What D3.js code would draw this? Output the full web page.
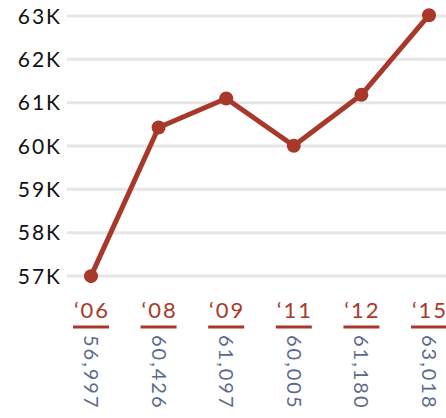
<!DOCTYPE html>
<html>
<head>
<meta charset="utf-8">
<script src="https://cdn.jsdelivr.net/npm/d3@7"></script>
<style>
  body { margin: 0; background: #fff; }
  svg { display: block; font-family: Lato, "Open Sans", sans-serif; }
</style>
</head>
<body>
<div id="chart"></div>
<script>
const years = ["\u201806", "\u201808", "\u201809", "\u201811", "\u201812", "\u201815"];
const values = [56997, 60426, 61097, 60005, 61180, 63018];
const yTicks = [57000, 58000, 59000, 60000, 61000, 62000, 63000];

const width = 446, height = 418;
const margin = {top: 15, right: 17, bottom: 142, left: 67};
const red = "#a8392a", slate = "#5b6a8a";

const data = years.map((y, i) => ({year: y, value: values[i]}));

const svg = d3.select("#chart")
    .append("svg")
    .attr("width", width)
    .attr("height", height);

const x = d3.scalePoint()
    .domain(years)
    .range([91, 429]);

const y = d3.scaleLinear()
    .domain([57000, 63000])
    .range([276, 16]);

// gridlines
svg.append("g")
    .selectAll("line")
    .data(yTicks)
    .join("line")
    .attr("x1", margin.left)
    .attr("x2", width)
    .attr("y1", d => y(d))
    .attr("y2", d => y(d))
    .attr("stroke", "#e6e6e6")
    .attr("stroke-width", 3);

// y labels
svg.append("g")
    .selectAll("text")
    .data(yTicks)
    .join("text")
    .attr("x", 62)
    .attr("y", d => y(d))
    .attr("dy", "0.36em")
    .attr("text-anchor", "end")
    .attr("font-size", 21)
    .attr("letter-spacing", 2)
    .attr("fill", "#111")
    .text(d => (d / 1000) + "K");

// line
svg.append("path")
    .datum(data)
    .attr("fill", "none")
    .attr("stroke", red)
    .attr("stroke-width", 5)
    .attr("stroke-linejoin", "round")
    .attr("d", d3.line()
        .x(d => x(d.year))
        .y(d => y(d.value)));

svg.append("g")
    .selectAll("circle")
    .data(data)
    .join("circle")
    .attr("cx", d => x(d.year))
    .attr("cy", d => y(d.value))
    .attr("r", 7)
    .attr("fill", red);

// year labels with underline
const lab = svg.append("g")
    .selectAll("g")
    .data(data)
    .join("g")
    .attr("transform", d => `translate(${x(d.year)},0)`);

lab.append("text")
    .attr("x", 1)
    .attr("y", 318)
    .attr("text-anchor", "middle")
    .attr("font-size", 22)
    .attr("letter-spacing", 2)
    .attr("fill", red)
    .text(d => d.year);

lab.append("line")
    .attr("x1", -18)
    .attr("x2", 18)
    .attr("y1", 327)
    .attr("y2", 327)
    .attr("stroke", red)
    .attr("stroke-width", 3);

lab.append("text")
    .attr("transform", "translate(0,335) rotate(90)")
    .attr("dy", "0.35em")
    .attr("font-size", 20)
    .attr("letter-spacing", 2)
    .attr("fill", slate)
    .text(d => d3.format(",")(d.value));
</script>
</body>
</html>
